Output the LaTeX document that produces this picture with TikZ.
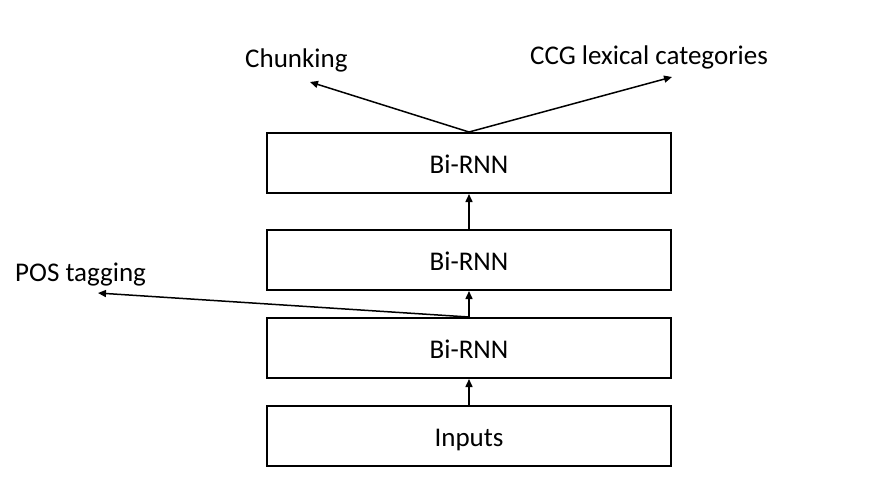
\documentclass[tikz,border=0pt]{standalone}
\usepackage{fontspec}
\setmainfont{Carlito}
\usetikzlibrary{arrows.meta}
\begin{document}
\begin{tikzpicture}[x=1pt,y=-1pt,
  layer/.style={draw=black,line width=2pt,minimum width=404pt,minimum height=60pt,inner sep=0pt,text height=20pt,text depth=0pt,font=\fontsize{27}{30}\selectfont},
  lbl/.style={anchor=base west,inner sep=0pt,font=\fontsize{27}{30}\selectfont},
  conn/.style={draw=black,line width=1.5pt,-{Triangle[length=8pt,width=7pt]}}]
\path[use as bounding box] (0,0) rectangle (890,483);
\node[layer] (b1) at (469,163) {Bi-RNN};
\node[layer] (b2) at (469,260) {Bi-RNN};
\node[layer] (b3) at (469,348) {Bi-RNN};
\node[layer] (inp) at (469,436) {Inputs};
\node[lbl] (chunk) at (245,67) {Chunking};
\node[lbl] (ccg) at (530,64) {CCG lexical categories};
\node[lbl] (pos) at (15,281) {POS tagging};
\coordinate (tchunk) at (310,82);
\coordinate (tccg) at (672,77);
\coordinate (tpos) at (98,293);
\draw[conn] (inp.north) -- (b3.south);
\draw[conn] (b3.north) -- (b2.south);
\draw[conn] (b2.north) -- (b1.south);
\draw[conn] (b1.north) -- (tchunk);
\draw[conn] (b1.north) -- (tccg);
\draw[conn] (b3.north) -- (tpos);
\end{tikzpicture}
\end{document}
